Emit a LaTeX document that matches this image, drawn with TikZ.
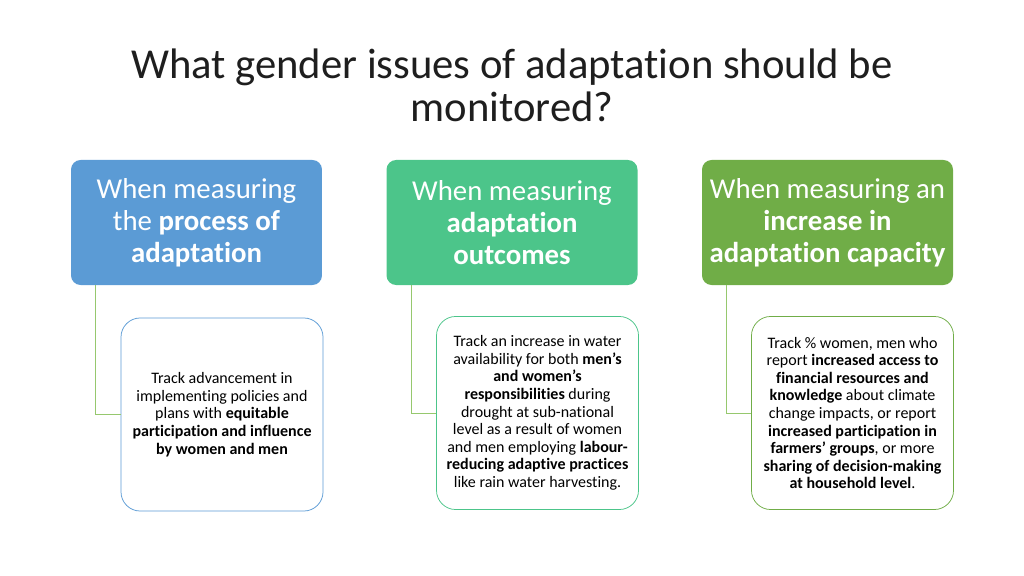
\documentclass[tikz,border=0pt]{standalone}
\usepackage{fontspec}
\setmainfont{Carlito}[Ligatures=NoCommon]
\usetikzlibrary{positioning}
\definecolor{headblue}{RGB}{91,155,213}
\definecolor{headteal}{RGB}{76,197,138}
\definecolor{headgreen}{RGB}{112,173,71}
\definecolor{linkgreen}{RGB}{150,200,110}
\definecolor{titlegray}{RGB}{30,30,30}

\begin{document}
\begin{tikzpicture}[x=0.9375pt,y=-0.9375pt,
    headbox/.style={rounded corners=9pt,minimum width=235.3pt,minimum height=117.2pt,
      text=white,align=center,font=\fontsize{27}{30}\selectfont},
    bodybox/.style={draw,line width=0.7pt,rounded corners=18pt,fill=white,
      minimum width=189.4pt,minimum height=181pt,align=center,
      font=\fontsize{15}{16.5}\selectfont},
    link/.style={linkgreen,line width=0.8pt}]
        \useasboundingbox (0,0) rectangle (1024,576);
        \node[titlegray,align=center,font=\fontsize{40}{40.5}\selectfont] (title) at (512,85)
          {What gender issues of adaptation should be\\monitored?};
        % header boxes
        \node[headbox,fill=headblue] (head1) at (196.5,222.5)
          {When measuring\\the \textbf{process of}\\\textbf{adaptation}};
        \node[headbox,fill=headteal] (head2) at (512,222.5)
          {When measuring\\\textbf{adaptation}\\\textbf{outcomes}};
        \node[headbox,fill=headgreen] (head3) at (827.5,222.5)
          {When measuring an\\\textbf{increase in}\\\textbf{adaptation capacity}};
        % body boxes
        \node[bodybox,draw=headblue] (body1) at (222,414.5)
          {Track advancement in\\implementing policies and\\plans with \textbf{equitable}\\
           \textbf{participation and influence}\\\textbf{by women and men}};
        \node[bodybox,draw=headteal] (body2) at (537.5,413)
          {Track an increase in water\\availability for both \textbf{men’s}\\\textbf{and women’s}\\
           \textbf{responsibilities} during\\drought at sub-national\\level as a result of women\\
           and men employing \textbf{labour-}\\\textbf{reducing adaptive practices}\\
           like rain water harvesting.};
        \node[bodybox,draw=headgreen] (body3) at (852.5,413)
          {Track \% women, men who\\report \textbf{increased access to}\\\textbf{financial resources and}\\
           \textbf{knowledge} about climate\\change impacts, or report\\
           \textbf{increased participation in}\\\textbf{farmers’ groups}, or more\\
           \textbf{sharing of decision-making}\\\textbf{at household level}.};
        % connectors
        \draw[link] ([xshift=23.4pt]head1.south west) |- (body1.west);
        \draw[link] ([xshift=23.4pt]head2.south west) |- (body2.west);
        \draw[link] ([xshift=23.4pt]head3.south west) |- (body3.west);
\end{tikzpicture}
\end{document}
